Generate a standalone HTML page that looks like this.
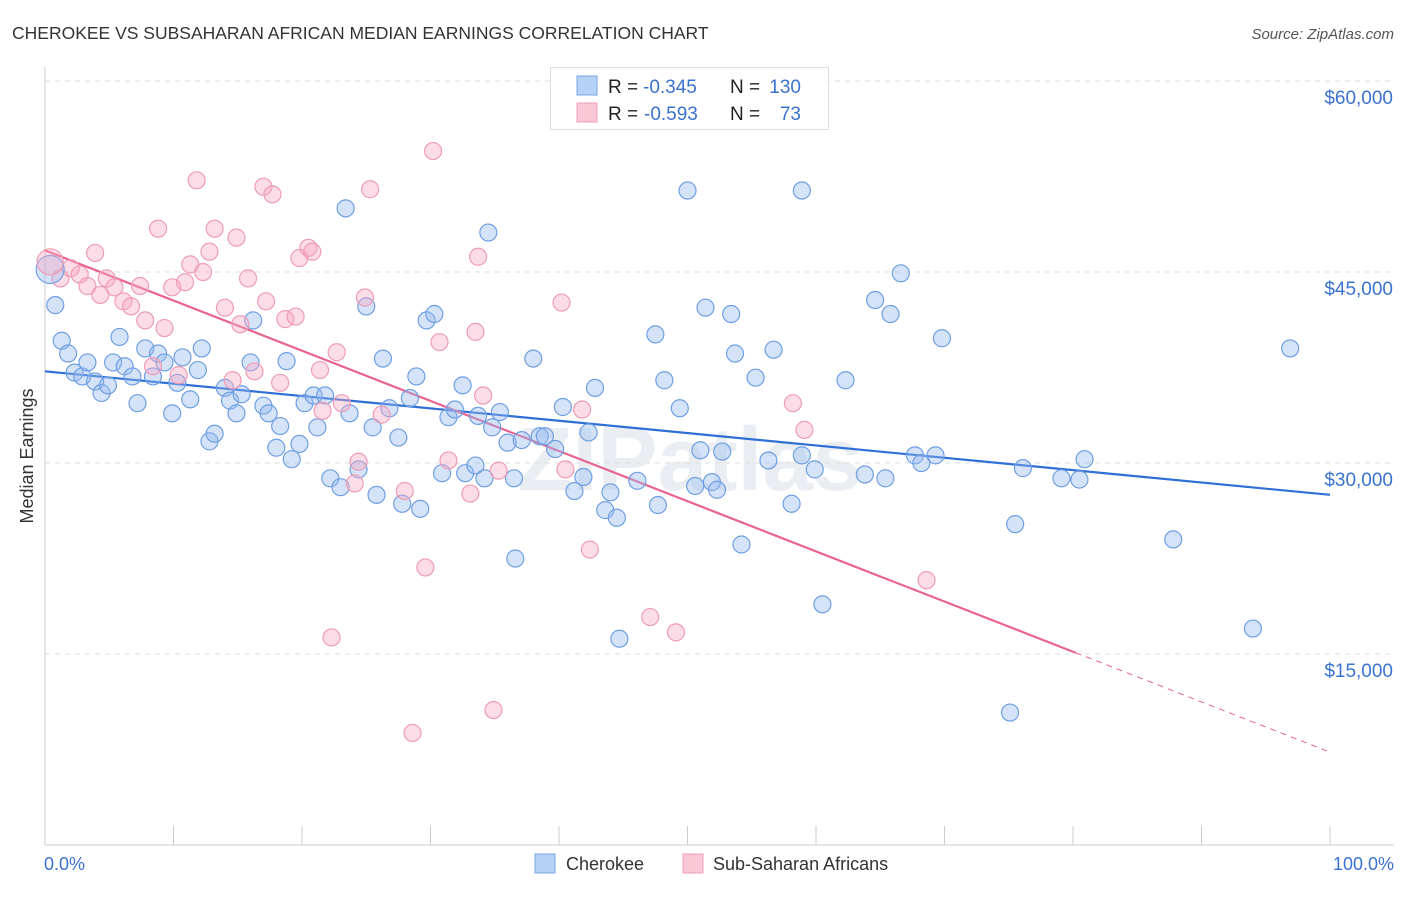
<!DOCTYPE html>
<html><head><meta charset="utf-8"><style>
body{margin:0;background:#fff;font-family:"Liberation Sans",sans-serif}
svg text{font-family:"Liberation Sans",sans-serif}
</style></head><body>
<svg id="chart" width="1406" height="892" xmlns="http://www.w3.org/2000/svg">
<text x="12" y="39" font-size="17.5" fill="#333">CHEROKEE VS SUBSAHARAN AFRICAN MEDIAN EARNINGS CORRELATION CHART</text>
<text x="1394" y="39" font-size="15" fill="#555" text-anchor="end" font-style="italic">Source: ZipAtlas.com</text>
<text x="33" y="456" font-size="18" fill="#333" text-anchor="middle" transform="rotate(-90 33 456)">Median Earnings</text>
<text x="690" y="490" font-size="90" fill="#dde3ec" text-anchor="middle" font-weight="bold" opacity="0.6">ZIPatlas</text>
<g id="grid"></g><g id="ticks"></g><g id="lines"></g><g id="pts"></g>
<g>
<rect x="550.5" y="67.5" width="278" height="62" fill="#fff" stroke="#ddd"/>
<rect x="577" y="76" width="20" height="19" fill="#b7d0f5" stroke="#7aa6e6"/>
<rect x="577" y="103" width="20" height="19" fill="#fbc6d6" stroke="#ef9fb8"/>
<text x="608" y="93" font-size="19" fill="#222">R =</text>
<text x="643" y="93" font-size="19" fill="#3a72d0">-0.345</text>
<text x="730" y="93" font-size="19" fill="#222">N =</text>
<text x="801" y="93" font-size="19" fill="#3a72d0" text-anchor="end">130</text>
<text x="608" y="120" font-size="19" fill="#222">R =</text>
<text x="644" y="120" font-size="19" fill="#3a72d0">-0.593</text>
<text x="730" y="120" font-size="19" fill="#222">N =</text>
<text x="801" y="120" font-size="19" fill="#3a72d0" text-anchor="end">73</text>
</g>
<text x="44" y="870" font-size="18" fill="#3a72d0">0.0%</text>
<text x="1394" y="870" font-size="18" fill="#3a72d0" text-anchor="end">100.0%</text>
<rect x="535" y="854" width="20" height="19" fill="#b7d0f5" stroke="#7aa6e6"/>
<text x="566" y="870" font-size="18" fill="#333">Cherokee</text>
<rect x="683" y="854" width="20" height="19" fill="#fbc6d6" stroke="#ef9fb8"/>
<text x="713" y="870" font-size="18" fill="#333">Sub-Saharan Africans</text>
</svg>
<script>
const yTicks=[15000,30000,45000,60000];
const yTickLabels=["$15,000","$30,000","$45,000","$60,000"];
const xTicks=[0,10,20,30,40,50,60,70,80,90,100];
const blueX=[0.8,1.3,1.8,2.3,2.9,3.3,3.9,4.4,4.9,5.3,5.8,6.2,6.8,7.2,7.8,8.4,8.8,9.3,9.9,10.3,10.7,11.3,11.9,12.2,12.8,13.2,14.0,14.4,14.9,15.3,16.0,16.2,17.0,17.4,18.0,18.3,18.8,19.2,19.8,20.2,20.9,21.2,21.8,22.2,23.0,23.4,23.7,24.4,25.0,25.5,25.8,26.3,26.8,27.5,27.8,28.4,28.9,29.2,29.7,30.3,30.9,31.4,31.9,32.5,32.7,33.5,33.7,34.2,34.5,34.8,35.4,36.0,36.5,36.6,37.1,38.0,38.5,38.9,39.7,40.3,41.2,41.9,42.3,42.8,43.6,44.0,44.5,44.7,46.1,47.5,47.7,48.2,49.4,50.0,50.6,51.0,51.4,51.9,52.3,52.7,53.4,53.7,54.2,55.3,56.3,56.7,58.1,58.9,58.9,59.9,60.5,62.3,63.8,64.6,65.4,65.8,66.6,67.7,68.2,69.3,69.8,75.1,75.5,76.1,79.1,80.5,80.9,87.8,94.0,96.9];
const blueY=[42.4,39.6,38.6,37.1,36.8,37.9,36.4,35.5,36.1,37.9,39.9,37.6,36.8,34.7,39.0,36.8,38.6,37.9,33.9,36.3,38.3,35.0,37.3,39.0,31.7,32.3,35.9,34.9,33.9,35.4,37.9,41.2,34.5,33.9,31.2,32.9,38.0,30.3,31.5,34.7,35.3,32.8,35.3,28.8,28.1,50.0,33.9,29.5,42.3,32.8,27.5,38.2,34.3,32.0,26.8,35.1,36.8,26.4,41.2,41.7,29.2,33.6,34.2,36.1,29.2,29.8,33.7,28.8,48.1,32.8,34.0,31.6,28.8,22.5,31.8,38.2,32.1,32.1,31.1,34.4,27.8,28.9,32.4,35.9,26.3,27.7,25.7,16.2,28.6,40.1,26.7,36.5,34.3,51.4,28.2,31.0,42.2,28.5,27.9,30.9,41.7,38.6,23.6,36.7,30.2,38.9,26.8,51.4,30.6,29.5,18.9,36.5,29.1,42.8,28.8,41.7,44.9,30.6,30.0,30.6,39.8,10.4,25.2,29.6,28.8,28.7,30.3,24.0,17.0,39.0];
const pinkX=[1.2,2.0,2.7,3.3,3.9,4.3,4.8,5.4,6.1,6.7,7.4,7.8,8.4,8.8,9.3,9.9,10.4,10.9,11.3,11.8,12.3,12.8,13.2,14.0,14.6,14.9,15.2,15.8,16.3,17.0,17.2,17.7,18.3,18.7,19.5,19.8,20.5,20.8,21.4,21.6,22.3,22.7,23.1,24.1,24.4,24.9,25.3,26.2,28.0,28.6,29.6,30.2,30.7,31.4,33.1,33.5,33.7,34.1,34.9,35.3,40.2,40.5,41.8,42.4,47.1,49.1,58.2,59.1,68.6];
const pinkY=[44.5,45.3,44.8,43.9,46.5,43.2,44.5,43.8,42.7,42.3,43.9,41.2,37.6,48.4,40.6,43.8,36.9,44.2,45.6,52.2,45.0,46.6,48.4,42.2,36.5,47.7,40.9,44.5,37.2,51.7,42.7,51.1,36.3,41.3,41.5,46.1,46.9,46.6,37.3,34.1,16.3,38.7,34.7,28.4,30.1,43.0,51.5,33.8,27.8,8.8,21.8,54.5,39.5,30.2,27.6,40.3,46.2,35.3,10.6,29.4,42.6,29.5,34.2,23.2,17.9,16.7,34.7,32.6,20.8];
const bigBlue=[0.4,45.2], bigPink=[0.4,45.8];
const blueTrend=[37.2,27.5];
const pinkTrend=[46.7,7.3];
const pinkSolidEnd=80.2;

const NS="http://www.w3.org/2000/svg";
const X=v=>45+v*12.85;
const Y=k=>845-k*12.733;
function mk(t,a,p){const e=document.createElementNS(NS,t);for(const k in a)e.setAttribute(k,a[k]);document.getElementById(p).appendChild(e);return e;}
yTicks.forEach((t,i)=>{
  const l=mk('line',{x1:45,x2:1394,y1:Y(t/1000),y2:Y(t/1000),stroke:'#ddd','stroke-dasharray':'5,5'},'grid');
  
  
  const tx=mk('text',{x:1393,y:Y(t/1000)+23,'font-size':19,fill:'#3a72d0','text-anchor':'end'},'grid');
  tx.textContent=yTickLabels[i];
  
  
});
const ax=mk('line',{x1:45,x2:1394,y1:845,y2:845,stroke:'#ccc'},'ticks');


const ay=mk('line',{x1:45,x2:45,y1:67,y2:845,stroke:'#ccc'},'ticks');


xTicks.forEach(t=>{
  const l=mk('line',{x1:X(t),x2:X(t),y1:826,y2:845,stroke:'#ccc'},'ticks');
  
  
});
function dot(x,y,r,fill,stroke,name){
  const c=mk('circle',{cx:X(x),cy:Y(y),r:r,fill:fill,stroke:stroke,'stroke-width':1.2},'pts');
  
  
}
blueX.forEach((x,i)=>dot(x,blueY[i],8.5,'rgba(150,185,240,0.4)','#6f9fe3','cherokee-point'));
pinkX.forEach((x,i)=>dot(x,pinkY[i],8.5,'rgba(248,170,196,0.4)','#ee9cb7','subsaharan-point'));
dot(bigBlue[0],bigBlue[1],14,'rgba(150,185,240,0.4)','#6f9fe3','cherokee-point-large');
dot(bigPink[0],bigPink[1],13,'rgba(248,170,196,0.4)','#ee9cb7','subsaharan-point-large');
const bl=mk('line',{x1:X(0),y1:Y(blueTrend[0]),x2:X(100),y2:Y(blueTrend[1]),stroke:'#2f6fd6','stroke-width':2.2},'lines');


const py=x=>pinkTrend[0]+(pinkTrend[1]-pinkTrend[0])*x/100;
const pl=mk('line',{x1:X(0),y1:Y(py(0)),x2:X(pinkSolidEnd),y2:Y(py(pinkSolidEnd)),stroke:'#e8648f','stroke-width':2.2},'lines');


const pd=mk('line',{x1:X(pinkSolidEnd),y1:Y(py(pinkSolidEnd)),x2:X(100),y2:Y(py(100)),stroke:'#e8648f','stroke-width':1,'stroke-dasharray':'6,5'},'lines');


</script>
</body></html>
